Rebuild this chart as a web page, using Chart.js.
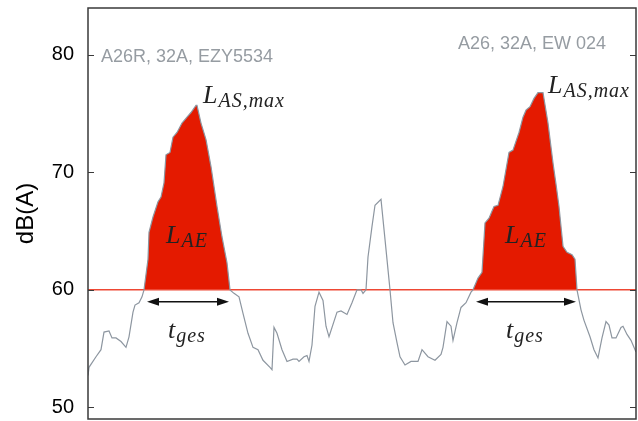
<!DOCTYPE html>
<html>
<head>
<meta charset="utf-8">
<script src="https://cdn.jsdelivr.net/npm/chart.js@4/dist/chart.umd.min.js"></script>
<style>
    body { margin: 0; background: #fff; }
    canvas { display: block; }
</style>
</head>
<body>
<canvas id="chart" width="638" height="421"></canvas>
<script>
// time in seconds, level in dB(A)
const times = [0, 0.25, 2, 3.25, 4, 5.25, 6, 7, 8.25, 9.5, 10.25, 11.25, 11.75, 12.75, 13.5, 14,
    15, 15.25, 16.25, 17.5, 18.25, 19, 19.5, 20.5, 21.25, 22.25, 23.5, 24.75, 25.75, 27, 27.25,
    28.25, 29.5, 30.75, 32.25, 33.5, 34.75, 35.5, 36.5, 37.75, 38.75, 40, 41.25, 42.5, 43.75,
    45.5, 46, 46.5, 47.25, 48.5, 49.75, 51.25, 52.25, 52.75, 54, 54.75, 55.25, 56, 56.75, 57.75,
    58.75, 59.5, 60.25, 62.25, 63.25, 64.75, 66, 67.25, 68.25, 68.75, 69.5, 70, 71, 71.75, 73.25,
    74.25, 75.5, 76.25, 77.25, 78, 79.25, 80.75, 82.5, 83.5, 85, 86.75, 88.25, 88.75, 89.75,
    90.75, 91.25, 92.25, 93.25, 94.5, 95.75, 96.25, 97.5, 98.5, 99.25, 100.25, 101.5, 102.5,
    103.75, 105.25, 106.25, 107.75, 108.75, 109.5, 110.5, 111.5, 112.5, 113.75, 115, 116.25,
    117, 117.75, 118.75, 119.75, 121, 121.75, 122.25, 123.25, 124, 125.5, 126.5, 127.5, 128.5,
    129.5, 130.25, 131, 132, 133.25, 133.75, 134.75, 135.75, 137];
const levels = [52.7, 53.4, 54.3, 54.9, 56.4, 56.5, 55.9, 55.9, 55.6, 55.1, 56.0, 58.1, 58.7, 58.9, 59.4, 60.0,
    62.6, 64.9, 66.2, 67.5, 67.9, 69.1, 71.5, 71.7, 73.0, 73.4, 74.2, 74.7, 75.1, 75.7, 75.7,
    74.2, 72.8, 70.5, 67.1, 64.5, 62.3, 60.0, 59.7, 59.4, 58.0, 56.3, 55.1, 54.9, 54.0,
    53.4, 53.2, 56.8, 56.3, 54.9, 53.9, 54.1, 54.1, 53.9, 54.3, 54.4, 53.9, 55.3, 58.6, 59.8,
    59.1, 56.9, 56.0, 58.1, 58.2, 57.9, 58.9, 60.0, 60.0, 59.7, 60.0, 62.8, 65.4, 67.2, 67.7,
    64.3, 60.0, 57.2, 55.5, 54.3, 53.6, 53.9, 53.9, 54.9, 54.3, 54.0, 54.5, 55.1, 57.3,
    56.9, 55.7, 57.2, 58.5, 58.9, 59.8, 60.0, 61.0, 61.5, 65.7, 66.1, 67.1, 67.2,
    68.8, 71.7, 71.9, 73.4, 74.7, 75.3, 75.6, 76.3, 76.8, 76.8, 74.2, 70.8,
    69.0, 67.1, 63.7, 63.2, 63.0, 62.6, 60.0, 58.3, 57.4, 56.0, 54.9, 54.2, 55.9,
    57.3, 57.0, 55.9, 55.9, 56.8, 56.9, 56.2, 55.7, 54.7];

const threshold = 60;
const events = [[14, 35.5], [96.25, 122.25]];
const flightLabels = ["A26R, 32A, EZY5534", "A26, 32A, EW 024"];
const yTicks = [50, 60, 70, 80];

const points = times.map((t, i) => ({ x: t, y: levels[i] }));
const eventPoints = events.map(([a, b]) => points.filter(p => p.x >= a && p.x <= b));

const RED = "rgb(228, 26, 0)";
const GREY = "rgb(141, 150, 160)";

const annotations = {
    id: "annotations",
    afterDatasetsDraw(chart) {
        const { ctx, chartArea: a, scales: { x, y } } = chart;
        ctx.save();

        // frame + inward ticks
        ctx.strokeStyle = "#3a3a3a";
        ctx.lineWidth = 1.5;
        ctx.strokeRect(a.left, a.top, a.right - a.left, a.bottom - a.top);
        ctx.lineWidth = 1.2;
        yTicks.forEach(v => {
            const py = Math.round(y.getPixelForValue(v)) + 0.5;
            ctx.beginPath();
            ctx.moveTo(a.left, py); ctx.lineTo(a.left + 6, py);
            ctx.moveTo(a.right, py); ctx.lineTo(a.right - 6, py);
            ctx.stroke();
        });

        // flight labels
        ctx.fillStyle = "rgb(150, 156, 162)";
        ctx.font = "18px 'Liberation Sans', Arial, sans-serif";
        ctx.textBaseline = "alphabetic";
        ctx.textAlign = "left";
        ctx.fillText(flightLabels[0], a.left + 13, 62);
        ctx.fillText(flightLabels[1], a.left + 370, 49);

        const sym = (main, sub, px, py) => {
            ctx.fillStyle = "#222";
            ctx.letterSpacing = "0px";
            ctx.font = "italic 26px 'Liberation Serif', 'DejaVu Serif', serif";
            ctx.fillText(main, px, py);
            const w = ctx.measureText(main).width;
            ctx.font = "italic 20px 'Liberation Serif', 'DejaVu Serif', serif";
            ctx.letterSpacing = "1px";
            ctx.fillText(sub, px + w + 1, py + 4);
            ctx.letterSpacing = "0px";
        };

        const yArrow = y.getPixelForValue(threshold) + 12;
        const peaks = [[203, 103], [548, 93]];
        const lae = [166, 505];
        events.forEach(([s, e], i) => {
            const x1 = x.getPixelForValue(s) + 3;
            const x2 = x.getPixelForValue(e) - 1;
            sym("L", "AS,max", peaks[i][0], peaks[i][1]);
            sym("L", "AE", lae[i], 243);
            const mid = (x1 + x2) / 2;
            sym("t", "ges", mid - 20, 338);

            ctx.strokeStyle = "#111";
            ctx.fillStyle = "#111";
            ctx.lineWidth = 1.5;
            ctx.beginPath();
            ctx.moveTo(x1 + 8, yArrow); ctx.lineTo(x2 - 8, yArrow);
            ctx.stroke();
            [[x1, 1], [x2, -1]].forEach(([hx, d]) => {
                ctx.beginPath();
                ctx.moveTo(hx, yArrow);
                ctx.lineTo(hx + d * 12, yArrow - 4);
                ctx.lineTo(hx + d * 12, yArrow + 4);
                ctx.closePath();
                ctx.fill();
            });
        });
        ctx.restore();
    }
};

new Chart(document.getElementById("chart"), {
    type: "line",
    data: {
        datasets: [
            { data: points, borderColor: GREY, borderWidth: 1.2, pointRadius: 0, fill: false },
            { data: [{ x: times[0], y: threshold }, { x: times[times.length - 1], y: threshold }],
              borderColor: "rgb(238, 72, 52)", borderWidth: 1.5, pointRadius: 0, fill: false },
            ...eventPoints.map(d => ({
                data: d, borderWidth: 0, pointRadius: 0,
                backgroundColor: RED, fill: { value: threshold }
            }))
        ]
    },
    options: {
        responsive: false,
        animation: false,
        devicePixelRatio: 1,
        layout: { padding: { top: 8, right: 2, bottom: 2, left: 0 } },
        plugins: { legend: { display: false }, tooltip: { enabled: false } },
        scales: {
            x: { type: "linear", min: 0, max: 137, display: false },
            y: {
                min: 49, max: 84,
                afterBuildTicks: s => { s.ticks = yTicks.map(v => ({ value: v })); },
                afterFit: s => {
                    s.width = 88;
                    s.paddingTop = 0;
                    s.paddingBottom = 0;
                },
                grid: { display: false, drawTicks: false },
                border: { display: false },
                ticks: {
                    padding: 14, color: "#000",
                    font: { family: "'Liberation Sans', Arial, sans-serif", size: 20 }
                },
                title: {
                    display: true, text: "dB(A)", color: "#000",
                    padding: { top: 12, bottom: 0 },
                    font: { family: "'Liberation Sans', Arial, sans-serif", size: 24 }
                }
            }
        }
    },
    plugins: [annotations]
});
</script>
</body>
</html>
